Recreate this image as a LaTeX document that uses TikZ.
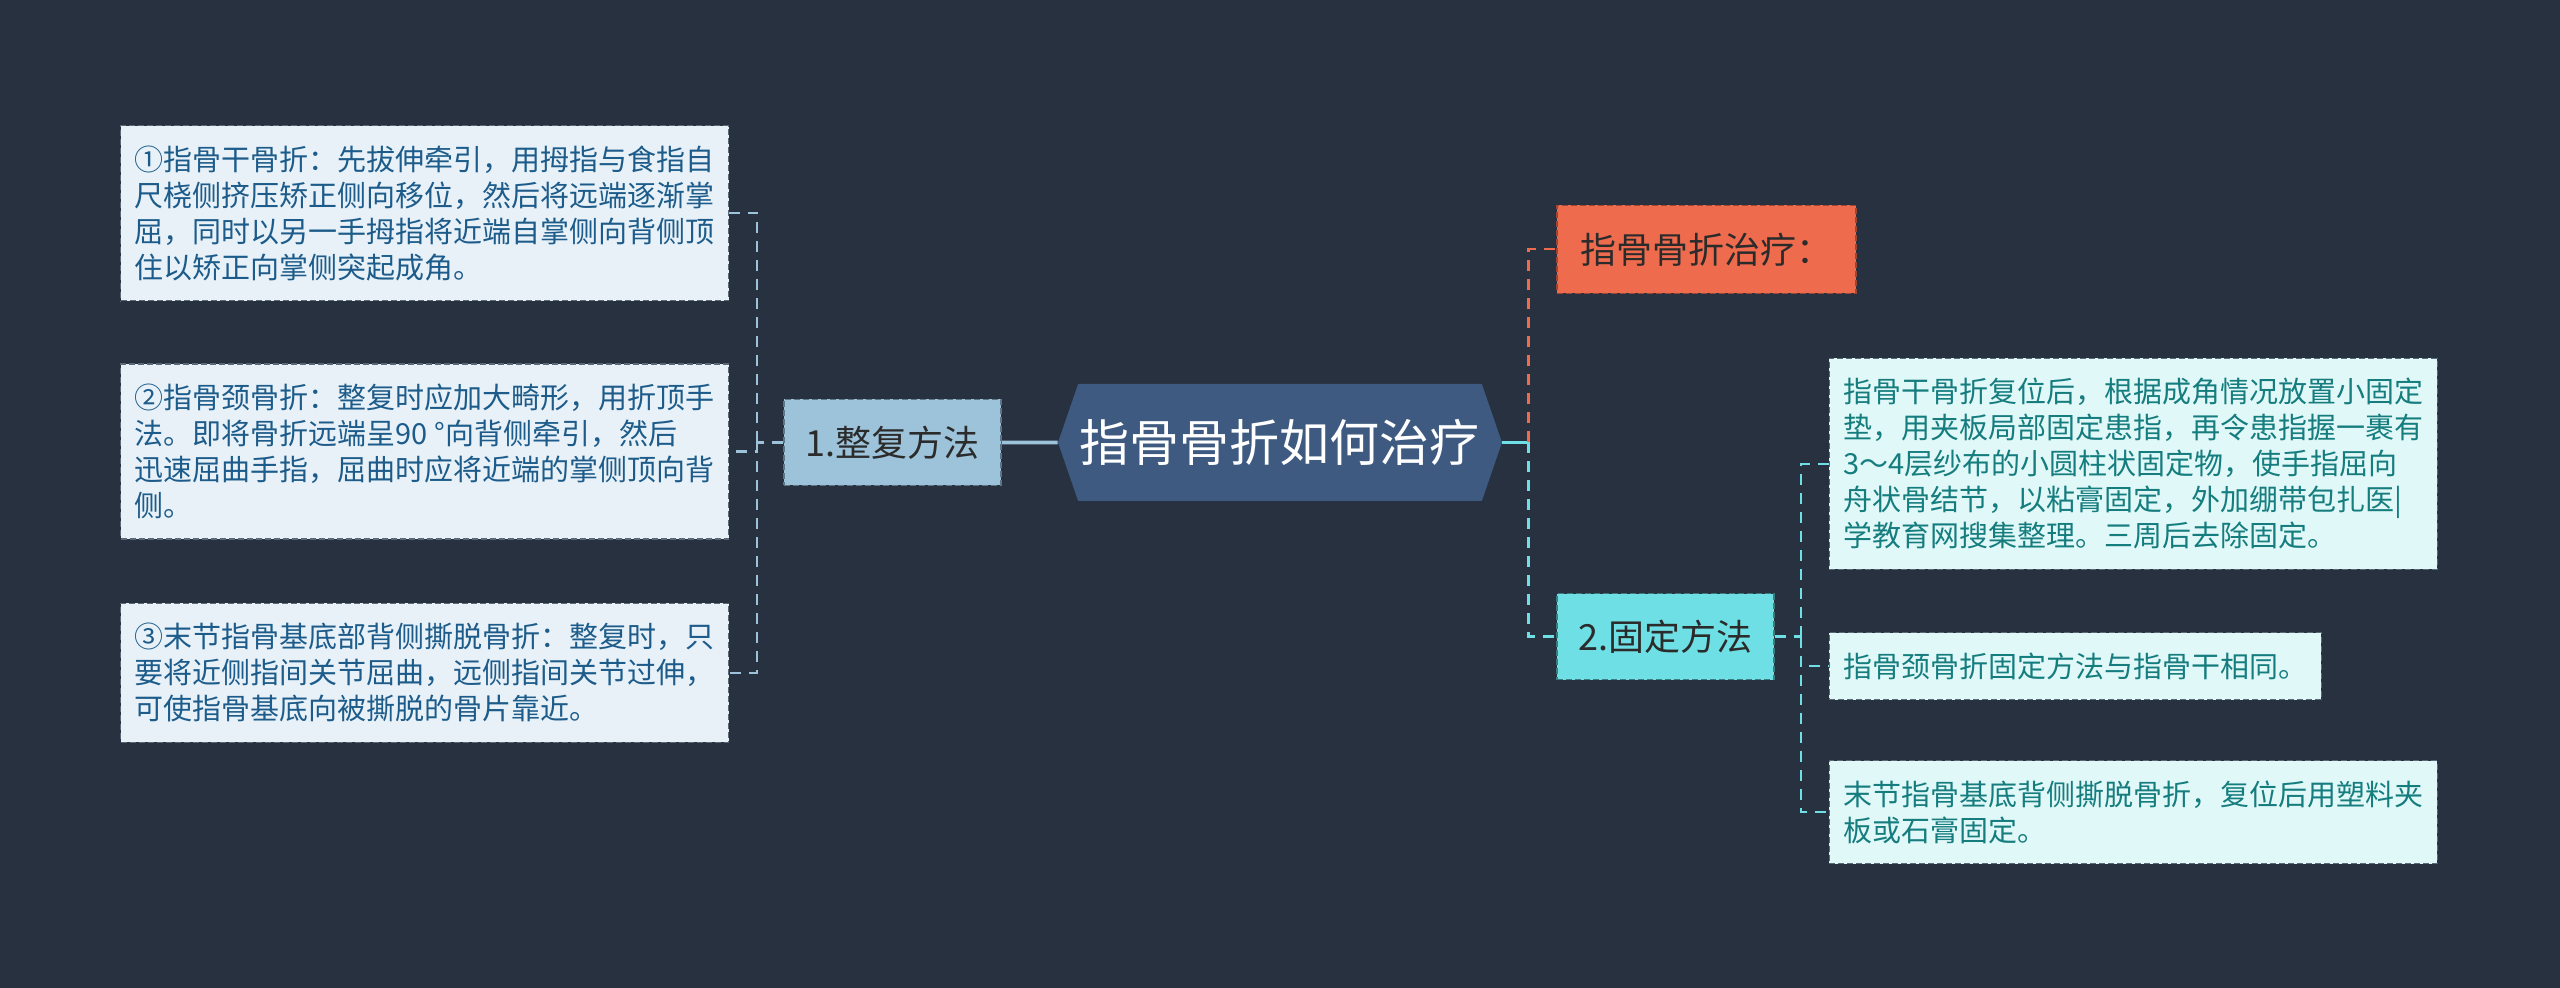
\documentclass[tikz,border=0pt]{standalone}
\usepackage{fontspec}
\setmainfont{Noto Sans CJK SC}
\usetikzlibrary{positioning, shapes.symbols}

\definecolor{bgdark}{HTML}{283140}
\definecolor{rootblue}{HTML}{3E5A80}
\definecolor{hubblue}{HTML}{9DC3DA}
\definecolor{hubcyan}{HTML}{6EE0E5}
\definecolor{huborange}{HTML}{EF6B4E}
\definecolor{leafblue}{HTML}{E8F1F8}
\definecolor{leafcyan}{HTML}{E1F8F8}
\definecolor{textblue}{HTML}{1D5C8A}
\definecolor{textteal}{HTML}{167D7F}
\definecolor{textdark}{HTML}{2B2B2B}
\definecolor{leafedge}{HTML}{5A6878}

\begin{document}
\begin{tikzpicture}[
root/.style={
signal,
signal to=west and east,
signal pointer angle=142,
fill=rootblue,
text=white,
inner xsep=0pt,
minimum width=222pt,
minimum height=58.5pt,
font=\fontsize{25}{30}\selectfont
},
hub/.style={
rectangle,
dash pattern=on 3pt off 1.5pt,
line width=0.6pt,
text=textdark,
minimum width=108.5pt,
minimum height=43pt,
font=\fontsize{18}{22}\selectfont
},
leaf/.style={
rectangle,
draw=leafedge,
dash pattern=on 3pt off 1.5pt,
line width=0.6pt,
align=left,
inner xsep=7pt,
inner ysep=10pt,
font=\fontsize{14.5}{18}\selectfont
},
leftleaf/.style={leaf, fill=leafblue, text=textblue},
rightleaf/.style={leaf, fill=leafcyan, text=textteal},
link/.style={line width=1.1pt, dash pattern=on 5.5pt off 4pt},
mainline/.style={line width=1.8pt}
]

% Canvas
\fill[bgdark] (-640pt,221.25pt) rectangle (640pt,-272.75pt);
\useasboundingbox (-640pt,221.25pt) rectangle (640pt,-272.75pt);

% Nodes
\node[root] (root) at (0,0) {指骨骨折如何治疗};

\node[hub, fill=hubblue, draw=hubblue!60!black, left=28pt of root] (reduce)
{1.整复方法};

\node[leftleaf, left=27pt of reduce, yshift=-4.5pt] (reduce2)
{②指骨颈骨折：整复时应加大畸形，用折顶手\\
法。即将骨折远端呈90 °向背侧牵引，然后\\
迅速屈曲手指，屈曲时应将近端的掌侧顶向背\\
侧。};

\node[leftleaf, above=31pt of reduce2] (reduce1)
{①指骨干骨折：先拔伸牵引，用拇指与食指自\\
尺桡侧挤压矫正侧向移位，然后将远端逐渐掌\\
屈，同时以另一手拇指将近端自掌侧向背侧顶\\
住以矫正向掌侧突起成角。};

\node[leftleaf, below=31.5pt of reduce2] (reduce3)
{③末节指骨基底部背侧撕脱骨折：整复时，只\\
要将近侧指间关节屈曲，远侧指间关节过伸，\\
可使指骨基底向被撕脱的骨片靠近。};

\node[hub, fill=huborange, draw=huborange!65!black, minimum width=149.5pt, minimum height=44pt,
above right=74.25pt and 27pt of root.east] (treat)
{指骨骨折治疗：};

\node[hub, fill=hubcyan, draw=hubcyan!55!black,
below right=75.25pt and 27pt of root.east] (fixation)
{2.固定方法};

\node[rightleaf, right=27pt of fixation, yshift=-14.75pt] (fix2)
{指骨颈骨折固定方法与指骨干相同。};

\node[rightleaf, above=31pt of fix2.north west, anchor=south west] (fix1)
{指骨干骨折复位后，根据成角情况放置小固定\\
垫，用夹板局部固定患指，再令患指握一裹有\\
3～4层纱布的小圆柱状固定物，使手指屈向\\
舟状骨结节，以粘膏固定，外加绷带包扎医|\\
学教育网搜集整理。三周后去除固定。};

\node[rightleaf, below=30pt of fix2.south west, anchor=north west] (fix3)
{末节指骨基底背侧撕脱骨折，复位后用塑料夹\\
板或石膏固定。};

% Connections
\draw[mainline, hubblue] (reduce) -- (root);

% reduction branch
\draw[link, hubblue] (reduce.west) -- ++(-13pt,0) coordinate (lsplit);
\draw[link, hubblue] (lsplit) |- (reduce1.east);
\draw[link, hubblue] (lsplit) |- (reduce2.east);
\draw[link, hubblue] (lsplit) |- (reduce3.east);

% right side
\draw[mainline, hubcyan] (root.east) -- ++(13pt,0) coordinate (rsplit);
\draw[link, huborange] (rsplit) |- (treat.west);
\draw[link, hubcyan] (rsplit) |- (fixation.west);

% fixation branch
\draw[link, hubcyan] (fixation.east) -- ++(13pt,0) coordinate (fsplit);
\draw[link, hubcyan] (fsplit) |- (fix1.west);
\draw[link, hubcyan] (fsplit) |- (fix2.west);
\draw[link, hubcyan] (fsplit) |- (fix3.west);

\end{tikzpicture}
\end{document}
